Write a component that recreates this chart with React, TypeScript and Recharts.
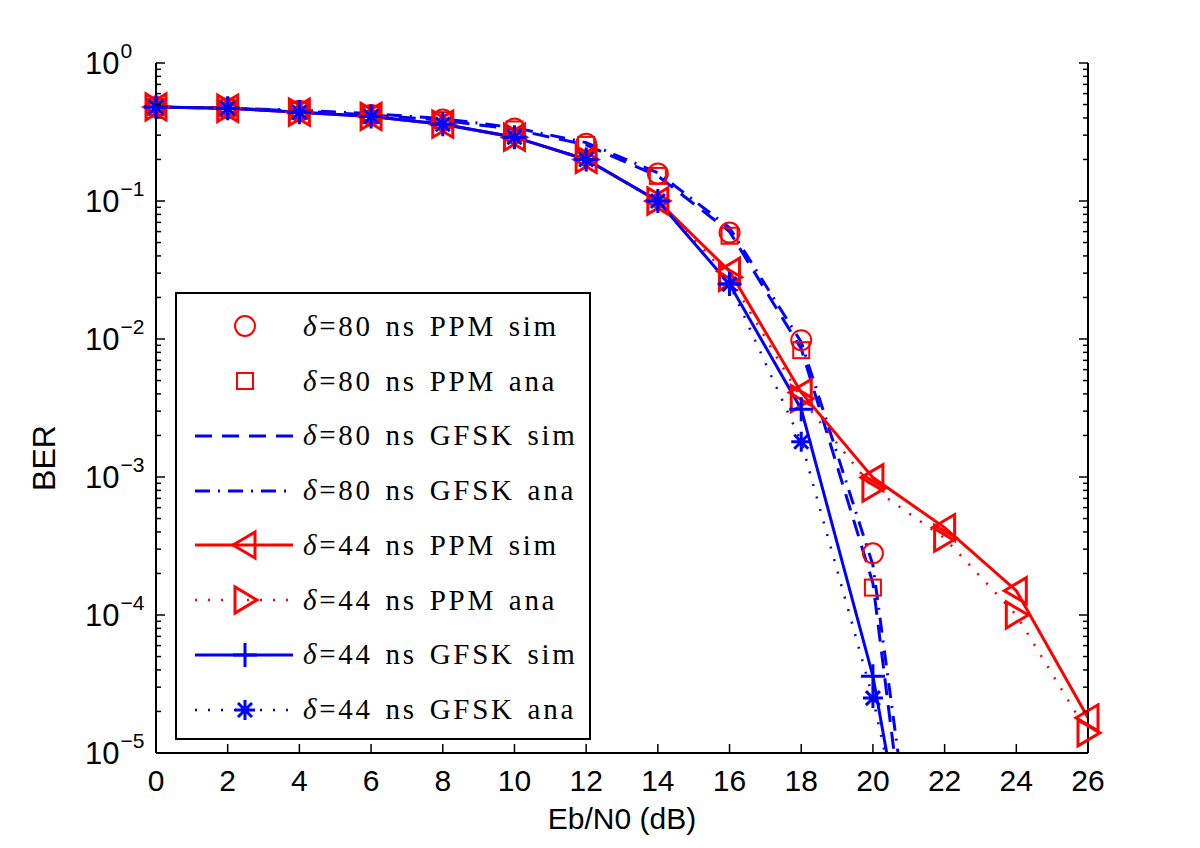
import React from 'react';
import { LineChart, Line, XAxis, YAxis, Legend, Label } from 'recharts';

// Eb/N0 grid (dB)
const ebn0 = [0, 2, 4, 6, 8, 10, 12, 14, 16, 18, 20, 22, 24, 26];
const xTicks = [0, 2, 4, 6, 8, 10, 12, 14, 16, 18, 20, 22, 24, 26];
const yDecades = [1e-5, 1e-4, 1e-3, 1e-2, 1e-1, 1];
const yExponents = ['\u22125', '\u22124', '\u22123', '\u22122', '\u22121', '0'];
const minorSteps = [2, 3, 4, 5, 6, 7, 8, 9];

// BER values (last GFSK points lie below the axis floor)
const ppm80Sim = [0.48, 0.47, 0.45, 0.42, 0.39, 0.335, 0.26, 0.158, 0.059, 0.0098, 0.00028];
const ppm80Ana = [0.48, 0.47, 0.45, 0.42, 0.385, 0.33, 0.255, 0.152, 0.056, 0.0083, 0.000158];
const gfsk80Sim = [0.48, 0.47, 0.45, 0.42, 0.385, 0.33, 0.255, 0.152, 0.06, 0.0085, 0.00017, 1.2e-8];
const gfsk80Ana = [0.48, 0.47, 0.455, 0.43, 0.395, 0.34, 0.265, 0.16, 0.064, 0.0095, 0.00023, 3e-8];
const ppm44Sim = [0.48, 0.47, 0.44, 0.41, 0.36, 0.29, 0.2, 0.1, 0.031, 0.0041, 0.00099, 0.00043, 0.00015, 1.8e-5];
const ppm44Ana = [0.48, 0.47, 0.44, 0.41, 0.36, 0.29, 0.2, 0.1, 0.028, 0.0037, 0.00083, 0.00036, 0.0001, 1.4e-5];
const gfsk44Sim = [0.48, 0.47, 0.44, 0.41, 0.36, 0.29, 0.2, 0.1, 0.025, 0.0031, 3.6e-5, 4.7e-8];
const gfsk44Ana = [0.48, 0.47, 0.44, 0.41, 0.36, 0.29, 0.2, 0.1, 0.025, 0.0018, 2.5e-5, 1e-7];

const legendLabels = [
  '=80 ns PPM sim',
  '=80 ns PPM ana',
  '=80 ns GFSK sim',
  '=80 ns GFSK ana',
  '=44 ns PPM sim',
  '=44 ns PPM ana',
  '=44 ns GFSK sim',
  '=44 ns GFSK ana',
];

const RED = '#ff0000';
const BLUE = '#0000ff';
const Y_MIN = 1e-5;
const SANS = '"Liberation Sans", Arial, Helvetica, sans-serif';
const SERIF = '"Liberation Serif", "Times New Roman", serif';

const DASHED = '17 10';
const DASH_DOT = '15 8 2 8';
const DOTTED = '2 11';

const yTicks = yDecades.flatMap((d, i) =>
  i < yDecades.length - 1 ? [d, ...minorSteps.map((m) => d * m)] : [d]
);

const majorIndex = (v: number) =>
  yDecades.findIndex((d) => Math.abs(Math.log10(v) - Math.log10(d)) < 1e-6);

const pts = (ys: number[]) => ys.map((y, i) => ({ x: ebn0[i], y }));
const visible = (ys: number[]) => pts(ys).filter((p) => p.y >= Y_MIN);

type MarkerKind = 'circle' | 'square' | 'triLeft' | 'triRight' | 'plus' | 'star' | 'none';

const Marker = ({ kind, cx, cy, color }: { kind: MarkerKind; cx: number; cy: number; color: string }) => {
  switch (kind) {
    case 'circle':
      return <circle cx={cx} cy={cy} r={10} fill="none" stroke={color} strokeWidth={2} />;
    case 'square':
      return <rect x={cx - 8} y={cy - 8} width={16} height={16} fill="none" stroke={color} strokeWidth={2} />;
    case 'triLeft':
      return (
        <polygon
          points={`${cx - 12},${cy} ${cx + 10},${cy - 13} ${cx + 10},${cy + 13}`}
          fill="none"
          stroke={color}
          strokeWidth={3}
        />
      );
    case 'triRight':
      return (
        <polygon
          points={`${cx + 12},${cy} ${cx - 10},${cy - 13} ${cx - 10},${cy + 13}`}
          fill="none"
          stroke={color}
          strokeWidth={3}
        />
      );
    case 'plus':
      return (
        <path d={`M${cx - 12},${cy}H${cx + 12}M${cx},${cy - 12}V${cy + 12}`} stroke={color} strokeWidth={3} />
      );
    case 'star': {
      const r = 10;
      const d = 7;
      return (
        <path
          d={`M${cx - r},${cy}H${cx + r}M${cx},${cy - r}V${cy + r}M${cx - d},${cy - d}L${cx + d},${cy + d}M${cx - d},${cy + d}L${cx + d},${cy - d}`}
          stroke={color}
          strokeWidth={3}
        />
      );
    }
    default:
      return null;
  }
};

const dotOf = (kind: MarkerKind, color: string) => (p: any) => (
  <g key={`${kind}-${p.index}`}>
    <Marker kind={kind} cx={p.cx} cy={p.cy} color={color} />
  </g>
);

const legendRows: { color: string; dash?: string; line: boolean; marker: MarkerKind; width: number }[] = [
  { color: RED, line: false, marker: 'circle', width: 2 },
  { color: RED, line: false, marker: 'square', width: 2 },
  { color: BLUE, dash: DASHED, line: true, marker: 'none', width: 3 },
  { color: BLUE, dash: DASH_DOT, line: true, marker: 'none', width: 3 },
  { color: RED, line: true, marker: 'triLeft', width: 3 },
  { color: RED, dash: DOTTED, line: true, marker: 'triRight', width: 2.5 },
  { color: BLUE, line: true, marker: 'plus', width: 3 },
  { color: BLUE, dash: DOTTED, line: true, marker: 'star', width: 2.5 },
];

const LeftTick = ({ x, y, payload }: any) => {
  const idx = majorIndex(payload.value);
  const len = idx >= 0 ? 9 : 5;
  return (
    <g>
      <line x1={x} x2={x + len} y1={y} y2={y} stroke="#000" strokeWidth={1.5} />
      {idx >= 0 && (
        <text x={x - 71} y={y + 11} fontSize={31} fontFamily={SANS} fill="#000">
          <tspan>10</tspan>
          <tspan dx={1} dy={-16} fontSize={21}>
            {yExponents[idx]}
          </tspan>
        </text>
      )}
    </g>
  );
};

const RightTick = ({ x, y, payload }: any) => {
  const len = majorIndex(payload.value) >= 0 ? 9 : 5;
  return <line x1={x} x2={x - len} y1={y} y2={y} stroke="#000" strokeWidth={1.5} />;
};

const BottomTick = ({ x, y, payload }: any) => (
  <g>
    <line x1={x} x2={x} y1={y} y2={y - 9} stroke="#000" strokeWidth={1.5} />
    <text x={x} y={y + 38} textAnchor="middle" fontSize={30} fontFamily={SANS} fill="#000">
      {payload.value}
    </text>
  </g>
);

const TopTick = ({ x, y }: any) => <line x1={x} x2={x} y1={y} y2={y + 9} stroke="#000" strokeWidth={1.5} />;

const LegendBox = () => (
  <div
    style={{
      width: 416,
      height: 448,
      boxSizing: 'border-box',
      border: '2px solid #000',
      background: '#fff',
      paddingTop: 5,
    }}
  >
    {legendRows.map((row, i) => (
      <div key={i} style={{ display: 'flex', alignItems: 'center', height: 54.76 }}>
        <svg width={126} height={54} style={{ flex: 'none' }}>
          {row.line && (
            <line
              x1={18}
              x2={116}
              y1={27}
              y2={27}
              stroke={row.color}
              strokeWidth={row.width}
              strokeDasharray={row.dash}
            />
          )}
          <Marker kind={row.marker} cx={68} cy={27} color={row.color} />
        </svg>
        <span
          style={{
            fontFamily: SERIF,
            fontSize: 29,
            letterSpacing: 2.7,
            wordSpacing: 3,
            whiteSpace: 'nowrap',
            color: '#000',
          }}
        >
          <i>δ</i>
          {legendLabels[i]}
        </span>
      </div>
    ))}
  </div>
);

export default function App() {
  const lineProps = { dataKey: 'y', type: 'linear' as const, isAnimationActive: false, activeDot: false };
  return (
    <div style={{ position: 'relative', width: 1184, height: 832, background: '#fff' }}>
      <LineChart width={1184} height={832} margin={{ top: 55, right: 0, bottom: 0, left: 0 }}>
        <XAxis
          xAxisId="b"
          type="number"
          dataKey="x"
          domain={[0, 26]}
          ticks={xTicks}
          interval={0}
          height={87}
          tickSize={0}
          tickMargin={0}
          tickLine={false}
          axisLine={{ stroke: '#000', strokeWidth: 2 }}
          tick={<BottomTick />}
        >
          <Label
            content={({ viewBox }: any) => (
              <text
                x={viewBox.x + viewBox.width / 2}
                y={viewBox.y + 76}
                textAnchor="middle"
                fontSize={30}
                fontFamily={SANS}
                fill="#000"
              >
                Eb/N0 (dB)
              </text>
            )}
          />
        </XAxis>
        <XAxis
          xAxisId="t"
          orientation="top"
          type="number"
          dataKey="x"
          domain={[0, 26]}
          ticks={xTicks}
          interval={0}
          height={0}
          tickSize={0}
          tickMargin={0}
          tickLine={false}
          axisLine={{ stroke: '#000', strokeWidth: 2 }}
          tick={<TopTick />}
        />
        <YAxis
          yAxisId="l"
          scale="log"
          type="number"
          domain={[Y_MIN, 1]}
          ticks={yTicks}
          interval={0}
          width={148}
          tickSize={0}
          tickMargin={0}
          tickLine={false}
          axisLine={{ stroke: '#000', strokeWidth: 2 }}
          tick={<LeftTick />}
        >
          <Label
            content={({ viewBox }: any) => {
              const cx = viewBox.x + 36;
              const cy = viewBox.y + viewBox.height / 2 + 50;
              return (
                <text
                  x={cx}
                  y={cy}
                  transform={`rotate(-90 ${cx} ${cy})`}
                  textAnchor="middle"
                  dominantBaseline="central"
                  fontSize={32}
                  fontFamily={SANS}
                  fill="#000"
                >
                  BER
                </text>
              );
            }}
          />
        </YAxis>
        <YAxis
          yAxisId="r"
          orientation="right"
          scale="log"
          type="number"
          domain={[Y_MIN, 1]}
          ticks={yTicks}
          interval={0}
          width={104}
          tickSize={0}
          tickMargin={0}
          tickLine={false}
          axisLine={{ stroke: '#000', strokeWidth: 2 }}
          tick={<RightTick />}
        />
        <YAxis
          yAxisId="c"
          orientation="right"
          hide
          width={0}
          scale="log"
          type="number"
          domain={[Y_MIN, 1]}
          allowDataOverflow
        />

        <Line {...lineProps} xAxisId="t" yAxisId="r" data={pts(ppm80Sim)} stroke="none" dot={dotOf('circle', RED)} />
        <Line {...lineProps} xAxisId="t" yAxisId="r" data={pts(ppm80Ana)} stroke="none" dot={dotOf('square', RED)} />
        <Line
          {...lineProps}
          xAxisId="b"
          yAxisId="c"
          data={pts(gfsk80Sim)}
          stroke={BLUE}
          strokeWidth={3}
          strokeDasharray={DASHED}
          dot={false}
        />
        <Line
          {...lineProps}
          xAxisId="b"
          yAxisId="c"
          data={pts(gfsk80Ana)}
          stroke={BLUE}
          strokeWidth={3}
          strokeDasharray={DASH_DOT}
          dot={false}
        />
        <Line
          {...lineProps}
          xAxisId="b"
          yAxisId="l"
          data={pts(ppm44Sim)}
          stroke={RED}
          strokeWidth={3}
          dot={dotOf('triLeft', RED)}
        />
        <Line
          {...lineProps}
          xAxisId="b"
          yAxisId="l"
          data={pts(ppm44Ana)}
          stroke={RED}
          strokeWidth={2.5}
          strokeDasharray={DOTTED}
          dot={dotOf('triRight', RED)}
        />
        <Line {...lineProps} xAxisId="b" yAxisId="c" data={pts(gfsk44Sim)} stroke={BLUE} strokeWidth={3} dot={false} />
        <Line {...lineProps} xAxisId="b" yAxisId="l" data={visible(gfsk44Sim)} stroke="none" dot={dotOf('plus', BLUE)} />
        <Line
          {...lineProps}
          xAxisId="b"
          yAxisId="c"
          data={pts(gfsk44Ana)}
          stroke={BLUE}
          strokeWidth={2.5}
          strokeDasharray={DOTTED}
          dot={false}
        />
        <Line {...lineProps} xAxisId="b" yAxisId="l" data={visible(gfsk44Ana)} stroke="none" dot={dotOf('star', BLUE)} />

        <Legend
          layout="vertical"
          align="center"
          verticalAlign="middle"
          content={() => <LegendBox />}
          wrapperStyle={{ position: 'absolute', left: 167, top: 284, width: 416, height: 448 }}
        />
      </LineChart>
    </div>
  );
}
